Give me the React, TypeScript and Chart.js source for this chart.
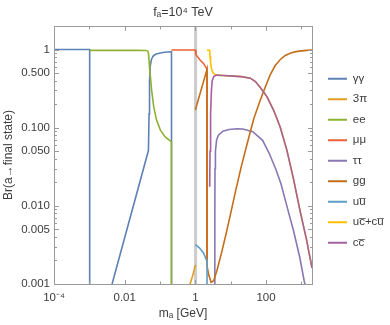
import React, { useEffect, useRef } from "react";
import { Chart, registerables } from "chart.js";

Chart.register(...registerables);

// A branching ratio of zero is drawn as a value far below the axis floor.
const ZERO = 1e-6;

// ---------- data (m_a in GeV, branching ratio) ----------
const mPhotons = [1e-4, 1.022e-3, 1.022e-3, 1.022e-3, 0.0044, 0.047, 0.049, 0.0505, 0.053, 0.057, 0.063, 0.075, 0.09, 0.12, 0.16, 0.2113, 0.2113];
const brPhotons = [1, 1, ZERO, null, 0.001, 0.051, 0.15, 0.4, 0.62, 0.74, 0.82, 0.87, 0.89, 0.915, 0.93, 0.935, ZERO];

const mThreePi = [0.5, 0.71, 0.85, 1.0];
const brThreePi = [0.00055, 0.001, 0.0013, 0.00175];

const mElectrons = [1.022e-3, 0.02, 0.04, 0.045, 0.047, 0.049, 0.051, 0.0536, 0.058, 0.0664, 0.08, 0.1026, 0.14, 0.2113, 0.2113];
const brElectrons = [0.975, 0.975, 0.97, 0.955, 0.9, 0.72, 0.55, 0.45, 0.3, 0.185, 0.125, 0.093, 0.076, 0.066, ZERO];

const mMuons = [0.2113, 1.0, 1.04, 1.2, 1.38, 1.72, 2.14, 2.14];
const brMuons = [0.985, 0.985, 0.86, 0.79, 0.73, 0.66, 0.56, 0.002];

const mTaus = [3.554, 3.56, 3.6, 3.7, 4.0, 4.5, 6, 9, 15, 22, 42, 80, 123, 192, 266, 400, 600, 900, 1200, 1500];
const brTaus = [ZERO, 0.008, 0.03, 0.05, 0.07, 0.08, 0.09, 0.095, 0.097, 0.096, 0.089, 0.069, 0.047, 0.029, 0.019, 0.0095, 0.0048, 0.0022, 0.0011, 0.0007];

const mGluons = [1.0, 2.14, 2.14, 2.4, 2.8, 3.3, 4.1, 5.5, 7.5, 10, 14, 20, 30, 45, 65, 90, 130, 180, 250, 350, 500, 700, 1000, 1400, 2000];
const brGluons = [0.168, 0.557, 0.0017, 0.0013, 0.00105, 0.0011, 0.0015, 0.0025, 0.0045, 0.008, 0.016, 0.032, 0.065, 0.13, 0.21, 0.31, 0.47, 0.62, 0.74, 0.84, 0.9, 0.94, 0.96, 0.975, 0.985];

const mUpUp = [1.0, 1.3, 1.7, 2.0, 2.14, 2.14];
const brUpUp = [0.0032, 0.0029, 0.0025, 0.0021, 0.002, ZERO];

const mUpCharm = [2.14, 2.55, 2.6, 2.7, 2.85, 3.0, 3.3, 4, 6, 12, 20, 36, 50, 68, 106, 163, 250, 387, 600, 925, 1400, 2000];
const brUpCharm = [0.98, 0.98, 0.82, 0.68, 0.58, 0.53, 0.49, 0.47, 0.465, 0.457, 0.45, 0.43, 0.39, 0.33, 0.25, 0.168, 0.103, 0.052, 0.022, 0.0085, 0.0037, 0.0016];

const mCharmCharm = [2.55, 2.6, 2.7, 2.85, 3.0, 3.3, 4, 6, 12, 20, 36, 50, 68, 106, 163, 250, 387, 600, 925, 1400, 2000];
const brCharmCharm = [0.0175, 0.05, 0.15, 0.3, 0.4, 0.45, 0.47, 0.465, 0.457, 0.45, 0.43, 0.39, 0.33, 0.25, 0.168, 0.103, 0.052, 0.022, 0.0085, 0.0037, 0.0016];

// Grey band marking the m_a ≈ 1 GeV transition region
const bandRange = [0.92, 1.12];

// ---------- axes ----------
const xRange = [1e-4, 2000];
const yRange = [0.001, 2];
const xTickValues = [1e-4, 1e-3, 0.01, 0.1, 1, 10, 100, 1000];
const xTickLabels = ["10⁻⁴", "", "0.01", "", "1", "", "100", ""];
const yTickValues = [0.001, 0.005, 0.01, 0.05, 0.1, 0.5, 1];
const yTickLabels = ["0.001", "0.005", "0.010", "0.050", "0.100", "0.500", "1"];
const yMinorMultipliers = [2, 3, 4, 6, 7, 8, 9];
const yMinorDecades = [0.001, 0.01, 0.1, 1];

const seriesNames = ["γγ", "3π", "ee", "μμ", "ττ", "gg", "uu\u0305", "uc\u0305+cu\u0305", "cc\u0305"];
const seriesColors = ["#5E81B5", "#E19C24", "#8FB032", "#EB6235", "#8778B3", "#C56E1A", "#5D9EC7", "#FFBF00", "#A5609D"];
const seriesMasses = [mPhotons, mThreePi, mElectrons, mMuons, mTaus, mGluons, mUpUp, mUpCharm, mCharmCharm];
const seriesRatios = [brPhotons, brThreePi, brElectrons, brMuons, brTaus, brGluons, brUpUp, brUpCharm, brCharmCharm];

const FONT = "'Liberation Sans', Arial, Helvetica, sans-serif";
const TEXT = "#3c3c3c";
const FRAME = "#9a9a9a";

const bandPlugin = {
  id: "band",
  beforeDatasetsDraw(chart: any) {
    const { ctx, chartArea, scales } = chart;
    const x0 = scales.x.getPixelForValue(bandRange[0]);
    const x1 = scales.x.getPixelForValue(bandRange[1]);
    ctx.save();
    ctx.fillStyle = "#cccccc";
    ctx.fillRect(x0, chartArea.top, x1 - x0, chartArea.bottom - chartArea.top);
    ctx.restore();
  },
};

const framePlugin = {
  id: "frame",
  afterDatasetsDraw(chart: any) {
    const { ctx, chartArea, scales } = chart;
    const l = Math.floor(chartArea.left) + 0.5;
    const r = Math.floor(chartArea.right) + 0.5;
    const t = Math.floor(chartArea.top) + 0.5;
    const b = Math.floor(chartArea.bottom) + 0.5;
    ctx.save();
    ctx.strokeStyle = FRAME;
    ctx.lineWidth = 1;
    ctx.strokeRect(l, t, r - l, b - t);
    ctx.beginPath();
    xTickValues.forEach((v, i) => {
      const px = Math.round(scales.x.getPixelForValue(v)) + 0.5;
      const len = xTickLabels[i] ? 4.5 : 3;
      ctx.moveTo(px, b); ctx.lineTo(px, b - len);
      ctx.moveTo(px, t); ctx.lineTo(px, t + len);
    });
    yTickValues.forEach((v) => {
      const py = Math.round(scales.y.getPixelForValue(v)) + 0.5;
      ctx.moveTo(l, py); ctx.lineTo(l + 4.5, py);
      ctx.moveTo(r, py); ctx.lineTo(r - 4.5, py);
    });
    yMinorDecades.forEach((d) => {
      yMinorMultipliers.forEach((k) => {
        const v = d * k;
        if (v > yRange[1]) return;
        const py = Math.round(scales.y.getPixelForValue(v)) + 0.5;
        ctx.moveTo(l, py); ctx.lineTo(l + 2.5, py);
        ctx.moveTo(r, py); ctx.lineTo(r - 2.5, py);
      });
    });
    ctx.stroke();
    ctx.restore();
  },
};

const legendPlacePlugin = {
  id: "legendPlace",
  afterLayout(chart: any) {
    const lg = chart.legend;
    if (!lg) return;
    const dx = chart.chartArea.right + 7 - lg.left;
    lg.left += dx;
    lg.right += dx;
    const dy = 64 - lg.top;
    lg.top += dy;
    lg.bottom += dy;
  },
};

export default function App() {
  const ref = useRef<HTMLCanvasElement | null>(null);
  useEffect(() => {
    if (!ref.current) return;
    Chart.defaults.font.family = FONT;
    const datasets: any[] = seriesNames.map((name, i) => ({
      label: name,
      data: seriesMasses[i].map((m, j) => ({ x: m, y: seriesRatios[i][j] })),
      borderColor: seriesColors[i],
      backgroundColor: seriesColors[i],
      borderWidth: 1.6,
      pointRadius: 0,
      tension: 0,
      spanGaps: false,
      order: seriesNames.length - i,
    }));
    const chart = new Chart(ref.current, {
      type: "line",
      data: { datasets },
      options: {
        animation: false,
        responsive: false,
        devicePixelRatio: 1,
        layout: { padding: { left: 0, right: 6, top: 0, bottom: 0 } },
        scales: {
          x: {
            type: "logarithmic",
            min: xRange[0],
            max: xRange[1],
            afterBuildTicks: (s: any) => {
              s.ticks = xTickValues.map((v) => ({ value: v }));
            },
            afterFit: (s: any) => {
              s.height = 41;
            },
            grid: { display: false, drawTicks: false },
            border: { display: false },
            ticks: {
              autoSkip: false,
              maxRotation: 0,
              padding: 7,
              color: TEXT,
              font: { size: 11.5, family: FONT },
              callback: (_v: any, i: number) => xTickLabels[i],
            },
            title: {
              display: true,
              text: "mₐ [GeV]",
              color: TEXT,
              font: { size: 12, family: FONT },
              padding: { top: 0, bottom: 4 },
            },
          },
          y: {
            type: "logarithmic",
            min: yRange[0],
            max: yRange[1],
            afterBuildTicks: (s: any) => {
              s.ticks = yTickValues.map((v) => ({ value: v }));
            },
            afterFit: (s: any) => {
              s.width = 54;
            },
            grid: { display: false, drawTicks: false },
            border: { display: false },
            ticks: {
              autoSkip: false,
              padding: 4,
              color: TEXT,
              font: { size: 11.5, family: FONT },
              callback: (_v: any, i: number) => yTickLabels[i],
            },
            title: {
              display: true,
              text: "Br(a→final state)",
              color: TEXT,
              font: { size: 12, family: FONT },
              padding: { top: 1, bottom: 0 },
            },
          },
        },
        plugins: {
          title: {
            display: true,
            text: "fₐ=10⁴ TeV",
            fullSize: false,
            color: TEXT,
            font: { size: 12.5, weight: "normal", family: FONT },
            padding: { top: 5, bottom: 6 },
          },
          legend: {
            position: "right",
            align: "start",
            maxWidth: 72,
            reverse: true,
            labels: {
              boxWidth: 19,
              boxHeight: 2,
              padding: 9,
              color: TEXT,
              font: { size: 11.5, family: FONT },
              generateLabels: (c: any) =>
                (Chart.defaults.plugins.legend.labels.generateLabels as any)(c).map((l: any) => ({
                  ...l,
                  lineWidth: 0,
                  fillStyle: l.strokeStyle,
                })),
            },
          },
          tooltip: { enabled: false },
        },
      } as any,
      plugins: [bandPlugin, framePlugin, legendPlacePlugin],
    });
    return () => chart.destroy();
  }, []);
  return (
    <div style={{ position: "fixed", left: 0, top: 0, width: 390, height: 325, background: "#fff" }}>
      <canvas ref={ref} width={390} height={325} style={{ width: 390, height: 325, display: "block" }} />
    </div>
  );
}
